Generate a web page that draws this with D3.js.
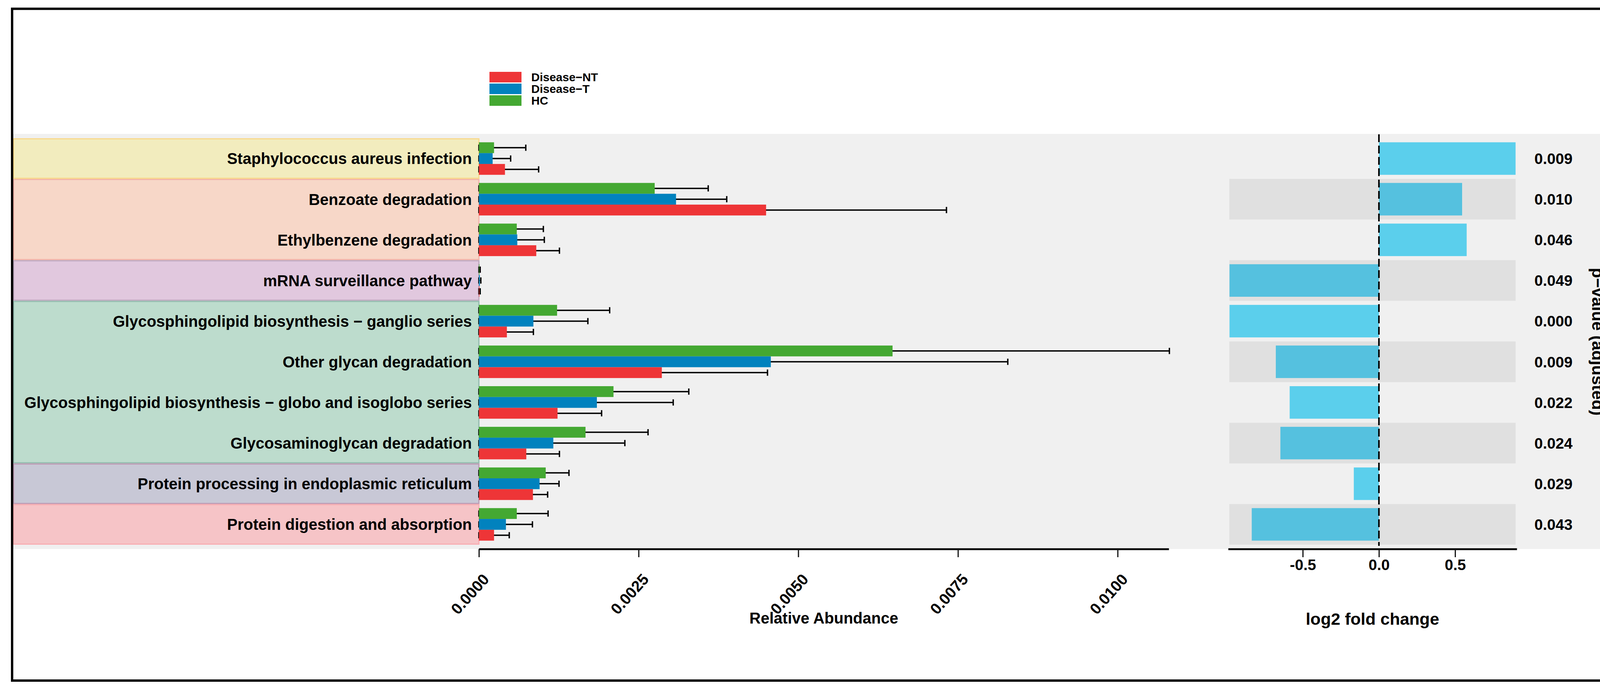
<!DOCTYPE html>
<html>
<head>
<meta charset="utf-8">
<script src="https://d3js.org/d3.v7.min.js"></script>
<style>
  html, body { margin: 0; padding: 0; background: #fff; overflow: hidden; }
  svg { display: block; }
  text { font-family: "Liberation Sans", Arial, Helvetica, sans-serif; font-weight: bold; }
</style>
</head>
<body>
<div id="chart"></div>
<script>
'use strict';

// pathways, top to bottom
var categories = [
  'Staphylococcus aureus infection',
  'Benzoate degradation',
  'Ethylbenzene degradation',
  'mRNA surveillance pathway',
  'Glycosphingolipid biosynthesis \u2212 ganglio series',
  'Other glycan degradation',
  'Glycosphingolipid biosynthesis \u2212 globo and isoglobo series',
  'Glycosaminoglycan degradation',
  'Protein processing in endoplasmic reticulum',
  'Protein digestion and absorption'
];

// which coloured class box each pathway belongs to
var classIndex = [0, 1, 1, 2, 3, 3, 3, 3, 4, 5];
var classFill   = ['#F2ECBE', '#F7D7C8', '#E1C8DE', '#BDDCCD', '#C8C8D6', '#F6C4C7'];
var classStroke = ['#F9D98C', '#F3B2A8', '#BEA8BE', '#93BBAE', '#BE9CB4', '#F8AEB3'];

// relative abundance means and sd
var hcMean = [0.000237, 0.002752, 0.000593, 0.000008, 0.001224, 0.006476, 0.002107, 0.001669, 0.001046, 0.000593];
var hcSd   = [0.000497, 0.000838, 0.000416, 0.000012, 0.000823, 0.004334, 0.001179, 0.000979, 0.000364, 0.000490];
var tMean  = [0.000215, 0.003086, 0.000601, 0.000015, 0.000853, 0.004570, 0.001847, 0.001165, 0.000950, 0.000423];
var tSd    = [0.000282, 0.000794, 0.000423, 0.000015, 0.000853, 0.003710, 0.001195, 0.001120, 0.000304, 0.000415];
var ntMean = [0.000408, 0.004496, 0.000898, 0.000008, 0.000438, 0.002864, 0.001231, 0.000742, 0.000846, 0.000237];
var ntSd   = [0.000527, 0.002824, 0.000363, 0.000012, 0.000415, 0.001654, 0.000690, 0.000519, 0.000230, 0.000238];

var log2fc = [0.897, 0.546, 0.576, -0.981, -0.981, -0.677, -0.586, -0.647, -0.165, -0.835];
var pAdj = ['0.009', '0.010', '0.046', '0.049', '0.000', '0.009', '0.022', '0.024', '0.029', '0.043'];

var groups = ['HC', 'Disease\u2212T', 'Disease\u2212NT'];   // bar order top to bottom
var legendOrder = ['Disease\u2212NT', 'Disease\u2212T', 'HC'];
var groupColor = { 'HC': '#44A832', 'Disease\u2212T': '#0182BE', 'Disease\u2212NT': '#EE3537' };

var abundanceTicks = [0, 0.0025, 0.005, 0.0075, 0.01];
var fcTicks = [-0.5, 0, 0.5];

var width = 4187, height = 1762;

var svg = d3.select('#chart')
            .append('svg')
            .attr('width', width)
            .attr('height', height);

svg.append('rect')
   .attr('width', width).attr('height', height)
   .attr('fill', '#fff');

// panel background
var panelTop = 343, panelBottom = 1406;
svg.append('rect')
   .attr('x', 34).attr('y', panelTop)
   .attr('width', 4164 - 34).attr('height', panelBottom - panelTop)
   .attr('fill', '#F0F0F0');

var y = d3.scaleBand()
          .domain(categories)
          .range([354, 1395]);
var bw = y.bandwidth();

var yInner = d3.scaleBand()
               .domain(groups)
               .range([0.1 * bw, 0.9 * bw]);

var x = d3.scaleLinear().domain([0, 0.0108]).range([1226, 2992]);
var xfc = d3.scaleLinear().domain([-0.99, 0.905]).range([3144, 3883]);

// class boxes behind the labels
var spans = [];
classIndex.forEach(function(c, i) {
  if (!spans.length || spans[spans.length - 1].c !== c) spans.push({ c: c, first: i, last: i });
  else spans[spans.length - 1].last = i;
});

svg.selectAll('.classbox')
   .data(spans)
   .enter().append('rect')
   .attr('x', 35)
   .attr('y', function(d) { return y(categories[d.first]) + 1.5; })
   .attr('width', x(0) - 35)
   .attr('height', function(d) { return y(categories[d.last]) + bw - y(categories[d.first]) - 3; })
   .attr('fill', function(d) { return classFill[d.c]; })
   .attr('stroke', function(d) { return classStroke[d.c]; })
   .attr('stroke-width', 3);

svg.selectAll('.catlabel')
   .data(categories)
   .enter().append('text')
   .attr('x', 1208)
   .attr('y', function(d) { return y(d) + bw / 2; })
   .attr('dy', '0.36em')
   .attr('text-anchor', 'end')
   .attr('font-size', 40)
   .attr('fill', '#000')
   .text(function(d) { return d; });

// abundance bars
var barData = [];
categories.forEach(function(cat, i) {
  barData.push({ cat: cat, g: 'HC', v: hcMean[i], sd: hcSd[i] });
  barData.push({ cat: cat, g: 'Disease\u2212T', v: tMean[i], sd: tSd[i] });
  barData.push({ cat: cat, g: 'Disease\u2212NT', v: ntMean[i], sd: ntSd[i] });
});

var capH = 16;
var err = svg.append('g');
barData.forEach(function(d) {
  var cy = y(d.cat) + yInner(d.g) + yInner.bandwidth() / 2;
  var x1 = x(d.v + d.sd);
  err.append('line')
     .attr('x1', x(0)).attr('x2', x1)
     .attr('y1', cy).attr('y2', cy)
     .attr('stroke', '#000').attr('stroke-width', 3.5);
  [x(0), x1].forEach(function(cx) {
    err.append('line')
       .attr('x1', cx).attr('x2', cx)
       .attr('y1', cy - capH / 2).attr('y2', cy + capH / 2)
       .attr('stroke', '#000').attr('stroke-width', 3.5);
  });
});

svg.selectAll('.bar')
   .data(barData)
   .enter().append('rect')
   .attr('x', x(0))
   .attr('y', function(d) { return y(d.cat) + yInner(d.g); })
   .attr('width', function(d) { return x(d.v) - x(0); })
   .attr('height', yInner.bandwidth())
   .attr('fill', function(d) { return groupColor[d.g]; });

// fold change panel
svg.selectAll('.band')
   .data(categories.filter(function(d, i) { return i % 2 === 1; }))
   .enter().append('rect')
   .attr('x', 3147)
   .attr('y', function(d) { return y(d); })
   .attr('width', 3880 - 3147)
   .attr('height', bw)
   .attr('fill', '#E0E0E0');

svg.selectAll('.fcbar')
   .data(categories)
   .enter().append('rect')
   .attr('x', function(d, i) { return Math.min(xfc(0), xfc(log2fc[i])); })
   .attr('y', function(d) { return y(d) + 0.1 * bw; })
   .attr('width', function(d, i) { return Math.abs(xfc(log2fc[i]) - xfc(0)); })
   .attr('height', 0.8 * bw)
   .attr('fill', function(d, i) { return i % 2 === 0 ? '#5BCFEC' : '#55C1DF'; });

svg.append('line')
   .attr('x1', xfc(0)).attr('x2', xfc(0))
   .attr('y1', panelTop + 1).attr('y2', 1398)
   .attr('stroke', '#000')
   .attr('stroke-width', 4)
   .attr('stroke-dasharray', '20,9');

svg.selectAll('.pval')
   .data(categories)
   .enter().append('text')
   .attr('x', 3928)
   .attr('y', function(d) { return y(d) + bw / 2; })
   .attr('dy', '0.36em')
   .attr('font-size', 39)
   .attr('fill', '#000')
   .text(function(d, i) { return pAdj[i]; });

svg.append('text')
   .attr('transform', 'translate(4091,875) rotate(90)')
   .attr('text-anchor', 'middle')
   .attr('dy', '0.35em')
   .attr('font-size', 43)
   .text('p\u2212value (adjusted)');

// axes
var axisY = 1406;

var xAxis = svg.append('g')
   .attr('transform', 'translate(0,' + axisY + ')')
   .call(d3.axisBottom(x).tickValues(abundanceTicks).tickSize(21).tickSizeOuter(0).tickFormat(''));

var fcAxis = svg.append('g')
   .attr('transform', 'translate(0,' + axisY + ')')
   .call(d3.axisBottom(xfc).tickValues(fcTicks).tickSize(21).tickSizeOuter(0)
           .tickFormat(function(d) { return d.toFixed(1); }));

[xAxis, fcAxis].forEach(function(ax) {
  ax.select('.domain').attr('stroke', '#111').attr('stroke-width', 5);
  ax.selectAll('.tick line').attr('stroke', '#111').attr('stroke-width', 3);
});

fcAxis.selectAll('.tick text')
      .attr('font-size', 39)
      .attr('font-family', '"Liberation Sans", Arial, sans-serif')
      .attr('fill', '#000')
      .attr('y', 26)
      .attr('dy', '0.71em');

svg.selectAll('.abtick')
   .data(abundanceTicks)
   .enter().append('text')
   .attr('transform', function(d) { return 'translate(' + (x(d) + 7) + ',1466) rotate(-48)'; })
   .attr('text-anchor', 'end')
   .attr('dy', '0.72em')
   .attr('font-size', 40)
   .attr('fill', '#000')
   .text(function(d) { return d3.format('.4f')(d); });

svg.append('text')
   .attr('x', (x.range()[0] + x.range()[1]) / 2)
   .attr('y', 1583)
   .attr('dy', '0.36em')
   .attr('text-anchor', 'middle')
   .attr('font-size', 40)
   .text('Relative Abundance');

svg.append('text')
   .attr('x', (xfc.range()[0] + xfc.range()[1]) / 2)
   .attr('y', 1585)
   .attr('dy', '0.36em')
   .attr('text-anchor', 'middle')
   .attr('font-size', 43)
   .text('log2 fold change');

// legend
var legend = svg.append('g').attr('transform', 'translate(1253,184)');
legendOrder.forEach(function(g, i) {
  legend.append('rect')
        .attr('x', 0).attr('y', i * 30)
        .attr('width', 82).attr('height', 27)
        .attr('fill', groupColor[g]);
  legend.append('text')
        .attr('x', 107).attr('y', i * 30 + 13.5)
        .attr('dy', '0.36em')
        .attr('font-size', 30)
        .text(g);
});

// outer frame
svg.append('rect')
   .attr('x', 31).attr('y', 22.5)
   .attr('width', 4136).attr('height', 1720.5)
   .attr('fill', 'none')
   .attr('stroke', '#000')
   .attr('stroke-width', 6);
</script>
</body>
</html>
